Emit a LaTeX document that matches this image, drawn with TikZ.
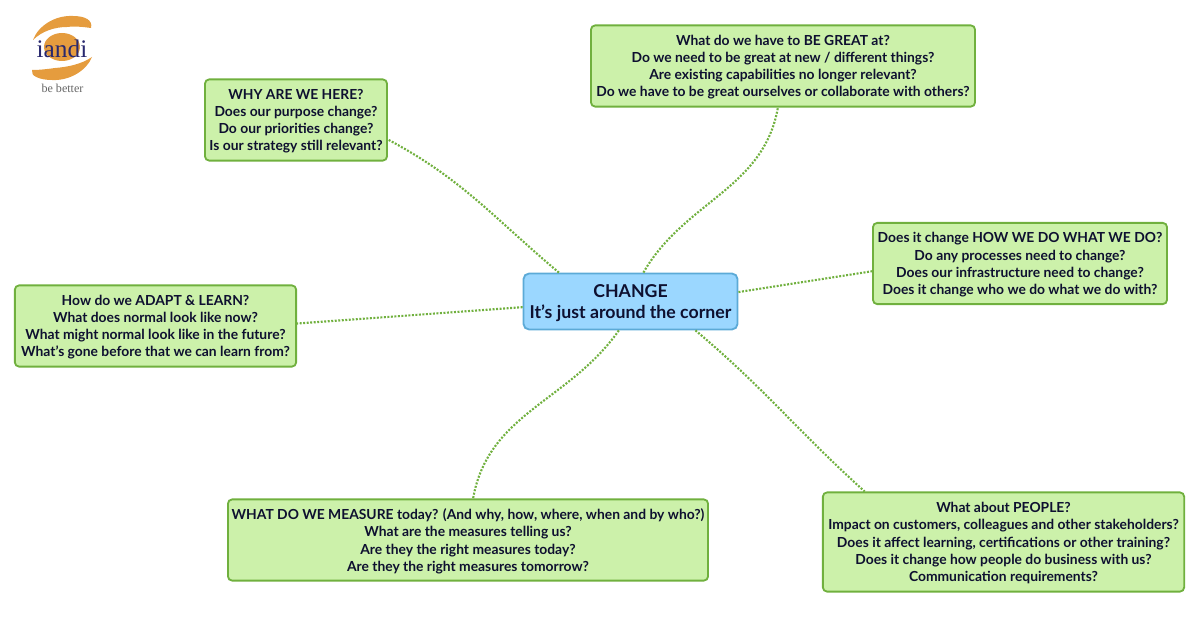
\documentclass[tikz,border=0pt]{standalone}
\usepackage{fontspec}
\setmainfont{Lato}
\newfontfamily\logofont{Liberation Serif}
\usetikzlibrary{positioning}
\definecolor{boxgreen}{RGB}{204,241,170}
\definecolor{edgegreen}{RGB}{112,176,62}
\definecolor{boxblue}{RGB}{155,215,255}
\definecolor{edgeblue}{RGB}{92,170,215}
\definecolor{inkblue}{RGB}{14,16,48}
\definecolor{logoorange}{RGB}{229,156,62}
\definecolor{logoblue}{RGB}{40,40,110}
\tikzset{
  topic/.style={draw=edgegreen, fill=boxgreen, line width=1.3pt, rounded corners=3pt, align=center, text=inkblue, inner sep=0pt, text depth=0pt, font=\fontsize{9.85}{12.2}\selectfont\bfseries},
  hub/.style={draw=edgeblue, fill=boxblue, line width=1.3pt, rounded corners=4pt, align=center, text=inkblue, inner sep=0pt, text depth=0pt, font=\fontsize{12.6}{15.4}\selectfont\bfseries},
  link/.style={edgegreen, line width=1.5pt, dash pattern=on 1.4pt off 1.1pt}
}
\begin{document}
\begin{tikzpicture}[x=0.025cm, y=-0.025cm]
\useasboundingbox (0,0) rectangle (1200,623);

% Logo
\fill[logoorange] (62,47) ellipse (18 and 14);
\fill[logoorange] (33,40) .. controls (38,26) and (55,15) .. (73,16) .. controls (85,16) and (93,20) .. (91,28) .. controls (84,27) and (75,26) .. (67,27) .. controls (55,27) and (42,31) .. (33,40) -- cycle;
\fill[logoorange] (92,57) .. controls (87,70) and (70,81) .. (52,80) .. controls (40,80) and (30,76) .. (32,70) .. controls (40,70) and (48,69) .. (55,68) .. controls (68,67) and (82,64) .. (92,57) -- cycle;
\node[text=logoblue, font=\logofont\fontsize{18}{18}\selectfont] (logo) at (62,49) {iandi};
\node[text=black!60, font=\logofont\fontsize{8.6}{9}\selectfont] (motto) at (62.5,88) {be better};

% Hub
\node[hub, minimum width=5.35cm, minimum height=1.4cm] (change) at (630.5,301.5) {CHANGE\\It's just around the corner};

% Topics
\node[topic, minimum width=9.6cm, minimum height=2.03cm] (great) at (783,66) {What do we have to BE GREAT at?\\Do we need to be great at new / different things?\\Are existing capabilities no longer relevant?\\Do we have to be great ourselves or collaborate with others?};
\node[topic, minimum width=4.55cm, minimum height=2.03cm] (why) at (296,120) {WHY ARE WE HERE?\\Does our purpose change?\\Do our priorities change?\\Is our strategy still relevant?};
\node[topic, minimum width=7.35cm, minimum height=2.03cm] (how) at (1020,263.5) {Does it change HOW WE DO WHAT WE DO?\\Do any processes need to change?\\Does our infrastructure need to change?\\Does it change who we do what we do with?};
\node[topic, minimum width=7.03cm, minimum height=2.03cm] (adapt) at (155.5,326) {How do we ADAPT \& LEARN?\\What does normal look like now?\\What might normal look like in the future?\\What's gone before that we can learn from?};
\node[topic, minimum width=12cm, minimum height=2.03cm] (measure) at (468,540) {WHAT DO WE MEASURE today? (And why, how, where, when and by who?)\\What are the measures telling us?\\Are they the right measures today?\\Are they the right measures tomorrow?};
\node[topic, minimum width=9.03cm, minimum height=2.48cm] (people) at (1003.5,542) {What about PEOPLE?\\Impact on customers, colleagues and other stakeholders?\\Does it affect learning, certifications or other training?\\Does it change how people do business with us?\\Communication requirements?};

% Links
\draw[link] (change.158) to[out=140, in=-28] (why.-12);
\draw[link] (change.66) to[out=60, in=-100] (great.263);
\draw[link] (change.5) -- (how.183);
\draw[link] (change.183) -- (adapt.1);
\draw[link] (change.248) to[out=-125, in=80] (measure.83);
\draw[link] (change.336) to[out=-40, in=138] (people.160);
\end{tikzpicture}
\end{document}
